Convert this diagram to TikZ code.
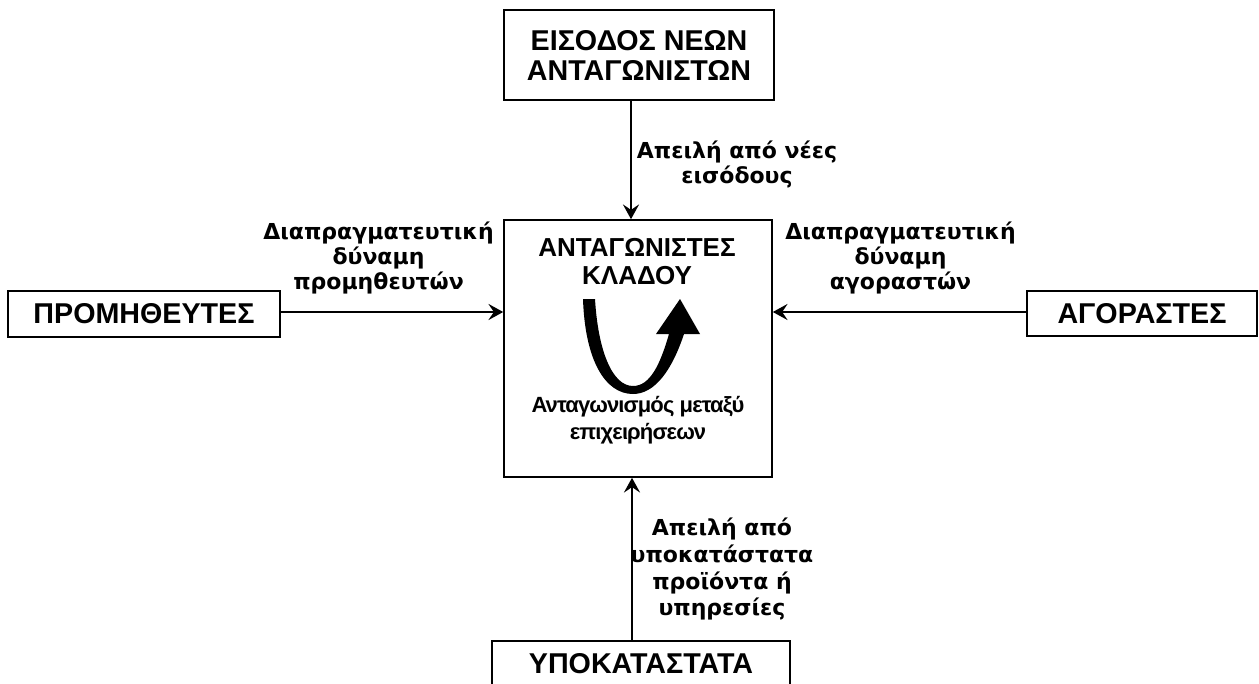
\documentclass[tikz,border=0pt]{standalone}
\usepackage{fontspec}
\setmainfont{Liberation Sans}
\newfontfamily\labelfont{DejaVu Sans}
\usetikzlibrary{arrows.meta}
\begin{document}
\begin{tikzpicture}[x=0.75pt,y=-0.75pt,
  box/.style={draw, line width=1.2pt, inner sep=0pt, align=center,
    font=\fontsize{21.5}{22.5}\selectfont\bfseries},
  lbl/.style={inner sep=0pt, anchor=north, align=center,
    font=\labelfont\fontsize{16.5}{18.5}\selectfont\bfseries},
  force/.style={line width=2.2pt, -{Stealth[length=11pt,width=12pt,inset=4pt]}}
]
\useasboundingbox (0,0) rectangle (1259,684);

% the five forces
\node[box, minimum width=202.5pt, minimum height=67.5pt] (entry) at (639,55)
  {ΕΙΣΟΔΟΣ ΝΕΩΝ\\ΑΝΤΑΓΩΝΙΣΤΩΝ};
\node[box, minimum width=201pt, minimum height=192.75pt] (core) at (638,348.5) {};
\node[box, minimum width=204pt, minimum height=34.5pt] (supp) at (144,314) {ΠΡΟΜΗΘΕΥΤΕΣ};
\node[box, minimum width=172.5pt, minimum height=33.75pt] (buy) at (1142,313.5) {ΑΓΟΡΑΣΤΕΣ};
\node[box, minimum width=223.5pt, minimum height=34.5pt] (subst) at (641,664) {ΥΠΟΚΑΤΑΣΤΑΤΑ};

% contents of the industry box
\node[inner sep=0pt, anchor=north, align=center,
  font=\fontsize{19.5}{21}\selectfont\bfseries] (rivals) at (637,238)
  {ΑΝΤΑΓΩΝΙΣΤΕΣ\\ΚΛΑΔΟΥ};
\node[inner sep=0pt, anchor=north, align=center,
  font=\fontsize{16.5}{20}\selectfont\bfseries\addfontfeatures{LetterSpace=-4}] (rivalry) at (638,396)
  {Ανταγωνισμός μεταξύ\\επιχειρήσεων};

% rotating rivalry arrow
\fill (583,299) .. controls (585,360) and (605,394) .. (633,394)
  .. controls (655,394) and (672,370) .. (684,334)
  -- (700,334) -- (680,299) -- (656,334) -- (669,334)
  .. controls (660,365) and (650,386) .. (633,386)
  .. controls (612,386) and (598,350) .. (595,299) -- cycle;

% connectors
\coordinate (ax) at (631,0);
\coordinate (bx) at (632,0);
\coordinate (ay) at (0,312);
\draw[force] (entry.south -| ax) -- (core.north -| ax);
\draw[force] (subst.north -| bx) -- (core.south -| bx);
\draw[force] (supp.east |- ay) -- (core.west |- ay);
\draw[force] (buy.west |- ay) -- (core.east |- ay);

% connector labels
\node[lbl, font=\labelfont\fontsize{16.5}{18.75}\selectfont\bfseries] (lnew) at (737,141)
  {Απειλή από νέες\\εισόδους};
\node[lbl] (lsupp) at (378.5,222) {Διαπραγματευτική\\δύναμη\\προμηθευτών};
\node[lbl] (lbuy) at (900.5,222) {Διαπραγματευτική\\δύναμη\\αγοραστών};
\node[lbl, font=\labelfont\fontsize{16.5}{20}\selectfont\bfseries] (lsubst) at (722,518)
  {Απειλή από\\υποκατάστατα\\προϊόντα ή\\υπηρεσίες};
\end{tikzpicture}
\end{document}
